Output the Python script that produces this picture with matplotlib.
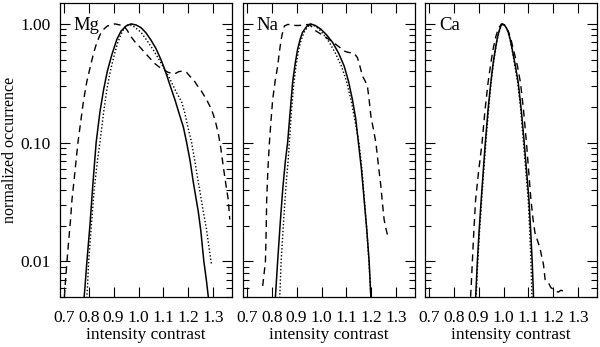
import numpy as np
import matplotlib.pyplot as plt
from matplotlib.ticker import LogLocator, FixedLocator, FixedFormatter, NullFormatter

plt.rcParams['font.family'] = ['Liberation Serif', 'DejaVu Serif']
plt.rcParams['font.size'] = 12.5

# Mg
mg_solid_x = [0.778, 0.785, 0.793, 0.805, 0.817, 0.830, 0.845, 0.860, 0.875, 0.893, 0.913, 0.930, 0.950, 0.970,
              0.990, 1.010, 1.030, 1.050, 1.070, 1.090, 1.106, 1.125, 1.146, 1.165, 1.180, 1.193, 1.207, 1.220,
              1.240, 1.250, 1.262, 1.272, 1.280, 1.284]
mg_solid_y = [0.004, 0.006, 0.010, 0.020, 0.045, 0.100, 0.180, 0.280, 0.400, 0.550, 0.740, 0.870, 0.960, 1.000,
              0.980, 0.930, 0.840, 0.730, 0.620, 0.500, 0.410, 0.310, 0.230, 0.170, 0.135, 0.100, 0.070, 0.046,
              0.026, 0.018, 0.010, 0.007, 0.005, 0.004]
mg_dot_x = [0.790, 0.795, 0.800, 0.810, 0.822, 0.835, 0.845, 0.860, 0.873, 0.887, 0.900, 0.915, 0.930, 0.945,
            0.960, 0.975, 0.990, 1.010, 1.035, 1.060, 1.080, 1.100, 1.115, 1.130, 1.150, 1.173, 1.185, 1.200,
            1.213, 1.226, 1.240, 1.250, 1.260, 1.272, 1.283, 1.293]
mg_dot_y = [0.004, 0.006, 0.010, 0.019, 0.040, 0.070, 0.100, 0.180, 0.280, 0.400, 0.520, 0.680, 0.820, 0.940,
            0.990, 0.970, 0.920, 0.850, 0.720, 0.600, 0.510, 0.430, 0.380, 0.330, 0.270, 0.220, 0.180, 0.130,
            0.100, 0.070, 0.046, 0.035, 0.026, 0.019, 0.013, 0.0093]
mg_dash_x = [0.700, 0.705, 0.713, 0.720, 0.727, 0.733, 0.740, 0.747, 0.757, 0.768, 0.780, 0.793, 0.807, 0.820,
             0.833, 0.847, 0.860, 0.875, 0.890, 0.905, 0.925, 0.940, 0.955, 0.970, 0.987, 1.005, 1.026, 1.047,
             1.067, 1.085, 1.100, 1.120, 1.146, 1.160, 1.173, 1.185, 1.193, 1.207, 1.220, 1.237, 1.253, 1.273,
             1.293, 1.307, 1.320, 1.330, 1.340, 1.350, 1.360, 1.366]
mg_dash_y = [0.004, 0.006, 0.010, 0.015, 0.022, 0.033, 0.045, 0.063, 0.100, 0.150, 0.230, 0.330, 0.440, 0.570,
             0.700, 0.820, 0.900, 0.960, 0.980, 1.000, 0.980, 0.970, 0.880, 0.780, 0.700, 0.640, 0.570, 0.510,
             0.460, 0.430, 0.410, 0.390, 0.380, 0.395, 0.400, 0.395, 0.390, 0.360, 0.340, 0.300, 0.270, 0.230,
             0.190, 0.155, 0.120, 0.090, 0.063, 0.045, 0.033, 0.0225]

# Na
na_solid_x = [0.812, 0.815, 0.824, 0.835, 0.845, 0.855, 0.864, 0.874, 0.884, 0.894, 0.904, 0.914, 0.924, 0.940,
              0.955, 0.975, 0.998, 1.020, 1.044, 1.068, 1.091, 1.108, 1.124, 1.137, 1.148, 1.160, 1.171, 1.181,
              1.191, 1.198, 1.200]
na_solid_y = [0.004, 0.005, 0.010, 0.022, 0.042, 0.070, 0.100, 0.180, 0.320, 0.460, 0.610, 0.740, 0.850, 0.950,
              1.000, 0.970, 0.900, 0.810, 0.700, 0.570, 0.440, 0.330, 0.230, 0.160, 0.100, 0.060, 0.033, 0.019,
              0.010, 0.005, 0.004]
na_dot_x = [0.830, 0.834, 0.838, 0.848, 0.858, 0.866, 0.871, 0.879, 0.888, 0.898, 0.908, 0.918, 0.930, 0.945,
            0.960, 0.978, 0.995, 1.013, 1.031, 1.055, 1.080, 1.100, 1.120, 1.135, 1.150, 1.162, 1.172, 1.182,
            1.190, 1.196, 1.199]
na_dot_y = [0.004, 0.006, 0.010, 0.022, 0.045, 0.070, 0.100, 0.180, 0.300, 0.450, 0.600, 0.730, 0.850, 0.950,
            0.990, 0.950, 0.880, 0.790, 0.700, 0.570, 0.440, 0.330, 0.220, 0.150, 0.100, 0.060, 0.033, 0.018,
            0.010, 0.006, 0.004]
na_dash_x = [0.764, 0.770, 0.775, 0.778, 0.780, 0.785, 0.791, 0.797, 0.804, 0.814, 0.824, 0.831, 0.838, 0.845,
             0.851, 0.865, 0.880, 0.895, 0.910, 0.930, 0.950, 0.965, 0.978, 0.998, 1.018, 1.038, 1.058, 1.075,
             1.091, 1.108, 1.124, 1.135, 1.144, 1.154, 1.164, 1.175, 1.184, 1.191, 1.198, 1.208, 1.218, 1.228,
             1.238, 1.245, 1.251, 1.258, 1.264]
na_dash_y = [0.0062, 0.008, 0.010, 0.018, 0.033, 0.060, 0.100, 0.150, 0.230, 0.330, 0.440, 0.580, 0.740, 0.870,
             0.960, 0.990, 0.980, 0.970, 0.970, 0.980, 0.990, 0.930, 0.870, 0.820, 0.770, 0.720, 0.670, 0.630,
             0.590, 0.575, 0.570, 0.550, 0.520, 0.440, 0.365, 0.330, 0.300, 0.230, 0.167, 0.130, 0.100, 0.065,
             0.043, 0.030, 0.0225, 0.019, 0.0168]

# Ca
ca_solid_x = [0.886, 0.890, 0.895, 0.902, 0.910, 0.918, 0.927, 0.938, 0.949, 0.958, 0.967, 0.975, 0.983, 0.990,
              0.996, 1.003, 1.011, 1.019, 1.027, 1.035, 1.047, 1.059, 1.071, 1.083, 1.093, 1.102, 1.109, 1.115,
              1.119, 1.122]
ca_solid_y = [0.004, 0.006, 0.010, 0.018, 0.032, 0.055, 0.100, 0.190, 0.320, 0.460, 0.610, 0.760, 0.880, 0.970,
              1.000, 0.980, 0.930, 0.850, 0.740, 0.610, 0.450, 0.320, 0.190, 0.100, 0.056, 0.033, 0.018, 0.010,
              0.006, 0.004]
ca_dot_x = [0.888, 0.892, 0.897, 0.904, 0.912, 0.920, 0.929, 0.940, 0.950, 0.959, 0.968, 0.976, 0.984, 0.991,
            0.997, 1.004, 1.011, 1.018, 1.026, 1.034, 1.045, 1.057, 1.069, 1.080, 1.090, 1.099, 1.105, 1.110,
            1.113, 1.115]
ca_dot_y = [0.004, 0.006, 0.010, 0.018, 0.032, 0.055, 0.100, 0.190, 0.320, 0.460, 0.610, 0.760, 0.880, 0.970,
            1.000, 0.980, 0.930, 0.850, 0.740, 0.610, 0.450, 0.320, 0.190, 0.100, 0.056, 0.033, 0.018, 0.010,
            0.006, 0.004]
ca_dash_x = [0.865, 0.870, 0.875, 0.881, 0.888, 0.900, 0.914, 0.926, 0.938, 0.948, 0.958, 0.969, 0.980, 0.992,
             1.001, 1.011, 1.021, 1.032, 1.043, 1.056, 1.068, 1.080, 1.092, 1.101, 1.110, 1.118, 1.126, 1.136,
             1.146, 1.153, 1.160, 1.167, 1.174, 1.180, 1.190, 1.200, 1.210, 1.220, 1.230, 1.240]
ca_dash_y = [0.004, 0.006, 0.010, 0.018, 0.033, 0.057, 0.100, 0.190, 0.320, 0.450, 0.610, 0.780, 0.920, 1.000,
             0.980, 0.930, 0.850, 0.710, 0.570, 0.440, 0.320, 0.190, 0.100, 0.057, 0.033, 0.023, 0.0174, 0.015,
             0.013, 0.011, 0.0095, 0.007, 0.0068, 0.0066, 0.006, 0.0058, 0.0056, 0.0055, 0.0057, 0.0056]

panels = [
    ('Mg', mg_solid_x, mg_solid_y, mg_dot_x, mg_dot_y, mg_dash_x, mg_dash_y),
    ('Na', na_solid_x, na_solid_y, na_dot_x, na_dot_y, na_dash_x, na_dash_y),
    ('Ca', ca_solid_x, ca_solid_y, ca_dot_x, ca_dot_y, ca_dash_x, ca_dash_y),
]
lefts = [60, 243, 425]

fig = plt.figure(figsize=(6, 3.47), dpi=100)
for i, (name, sx, sy, dx, dy, ex, ey) in enumerate(panels):
    ax = fig.add_axes([lefts[i] / 600, 50 / 347, 172 / 600, 294 / 347])
    ax.plot(sx, sy, color='black', lw=1.1)
    ax.plot(dx, dy, color='black', lw=1.0, ls=(0, (1, 1.5)))
    ax.plot(ex, ey, color='black', lw=1.0, ls=(0, (5, 3.5)))
    ax.set_yscale('log')
    ax.set_xlim(0.685, 1.375)
    ax.set_ylim(0.005, 1.5)
    ax.xaxis.set_major_locator(FixedLocator([0.7, 0.8, 0.9, 1.0, 1.1, 1.2, 1.3]))
    ax.set_xticklabels(['0.7', '0.8', '0.9', '1.0', '1.1', '1.2', '1.3'])
    ax.yaxis.set_major_locator(FixedLocator([0.01, 0.1, 1.0]))
    ax.yaxis.set_minor_locator(LogLocator(base=10, subs=np.arange(2, 10)))
    ax.yaxis.set_minor_formatter(NullFormatter())
    if i == 0:
        ax.yaxis.set_major_formatter(FixedFormatter(['0.01', '0.10', '1.00']))
        ax.set_ylabel('normalized occurrence', fontsize=11.5)
        ax.yaxis.set_label_coords(-0.245, 0.5)
    else:
        ax.yaxis.set_major_formatter(NullFormatter())
    ax.tick_params(which='both', direction='in', top=True, right=True, width=0.8)
    ax.tick_params(which='major', length=7)
    ax.tick_params(axis='x', which='major', pad=9)
    ax.tick_params(axis='y', which='major', pad=7)
    ax.tick_params(which='minor', length=4)
    ax.set_xlabel('intensity contrast', fontsize=12.5, labelpad=1)
    for s in ax.spines.values():
        s.set_linewidth(0.9)
    ax.text(0.08, 0.925, name, transform=ax.transAxes, fontsize=13.5, va='center', ha='left')

fig.savefig('out.png', dpi=100)
